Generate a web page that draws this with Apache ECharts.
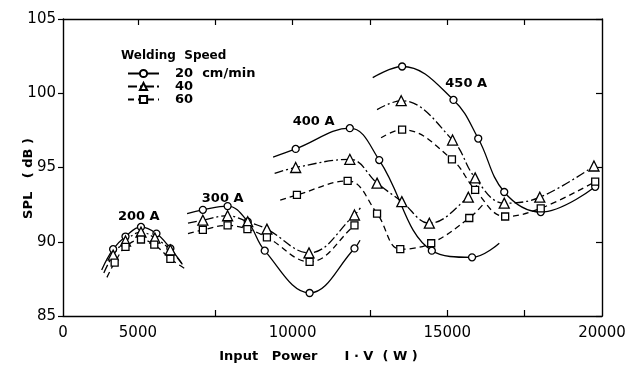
<!DOCTYPE html>
<html>
<head>
<meta charset="utf-8">
<script src="https://cdn.jsdelivr.net/npm/echarts@6/dist/echarts.min.js"></script>
<style>html,body{margin:0;padding:0;background:#fff}#c{width:625px;height:365px}</style>
</head>
<body>
<div id="c"></div>
<script>
// ---- Data ----
const speedNames = ['20  cm/min', '40', '60'];
const groupLabels = ['200 A', '300 A', '400 A', '450 A'];
const groupLabelX = [5030, 7740, 10680, 15610];
const groupLabelY = [91.67, 92.88, 98.06, 100.62];
const xTickLabels = ['0', '5000', '10000', '15000', '20000'];
const xLabelValues = [2580, 5000, 10000, 15000, 20000];
const yTickLabels = ['85', '90', '95', '100', '105'];

// 200 A
const a200_20 = [[4200, 89.5], [4600, 90.35], [5100, 91.0], [5600, 90.55], [6050, 89.55]];
const a200_40 = [[4200, 89.1], [4600, 90.05], [5100, 90.65], [5550, 90.25], [6050, 89.45]];
const a200_60 = [[4250, 88.6], [4600, 89.65], [5100, 90.15], [5530, 89.8], [6050, 88.85]];
const t200_20 = [[3830, 88.1], [6420, 88.55]];
const t200_40 = [[3900, 87.9], [6480, 88.35]];
const t200_60 = [[4000, 87.6], [6550, 88.15]];
// 300 A
const a300_20 = [[7100, 92.15], [7900, 92.4], [8550, 91.35], [9100, 89.4], [10550, 86.55], [12000, 89.55]];
const a300_40 = [[7100, 91.45], [7900, 91.75], [8550, 91.35], [9170, 90.85], [10530, 89.25], [12000, 91.8]];
const a300_60 = [[7100, 90.8], [7900, 91.1], [8540, 90.85], [9170, 90.3], [10550, 88.65], [12000, 91.1]];
const t300_20 = [[6590, 91.9], [12180, 90.1]];
const t300_40 = [[6620, 91.25], [12230, 92.4]];
const t300_60 = [[6620, 90.55], [12160, 91.45]];
// 400 A
const a400_20 = [[10100, 96.25], [11850, 97.65], [12800, 95.5], [14500, 89.4], [15800, 88.95]];
const a400_40 = [[10100, 95.0], [11850, 95.55], [12730, 93.95], [13530, 92.7], [14420, 91.25], [15680, 93.0]];
const a400_60 = [[10140, 93.15], [11780, 94.1], [12730, 91.9], [13480, 89.5], [14480, 89.9], [15710, 91.6]];
const t400_20 = [[9370, 95.7], [16680, 89.9]];
const t400_40 = [[9420, 94.6], [15950, 93.8]];
const t400_60 = [[9600, 92.8], [16150, 92.5]];
// 450 A
const a450_20 = [[13540, 101.8], [15200, 99.55], [16000, 96.95], [16840, 93.35], [18020, 92.0], [19780, 93.7]];
const a450_40 = [[13510, 99.5], [15170, 96.85], [15900, 94.3], [16840, 92.6], [17990, 93.0], [19740, 95.1]];
const a450_60 = [[13540, 97.55], [15150, 95.55], [15900, 93.5], [16870, 91.7], [18020, 92.25], [19780, 94.05]];
const t450_20 = [[12590, 101.05], null];
const t450_40 = [[12730, 98.9], null];
const t450_60 = [[12860, 97.0], null];

// ---- Styles ----
const FONT = 'DejaVu Sans';
const INK = '#000';
const symbols = ['circle', 'triangle', 'rect'];
const symSizes = [7, 10, 7];
const dashes = ['solid', [9, 3, 2, 3], [6, 4]];

function build(speedIdx, pts, tails) {
  const data = [];
  if (tails[0]) data.push({ value: tails[0], symbol: 'none' });
  pts.forEach(p => data.push({ value: p }));
  if (tails[1]) data.push({ value: tails[1], symbol: 'none' });
  return {
    type: 'line',
    name: speedNames[speedIdx],
    data: data,
    smooth: 0.4,
    symbol: symbols[speedIdx],
    symbolSize: symSizes[speedIdx],
    showAllSymbol: true,
    lineStyle: { color: INK, width: 1.3, type: dashes[speedIdx] },
    itemStyle: { color: '#fff', borderColor: INK, borderWidth: 1.3 },
    emphasis: { disabled: true },
    animation: false,
    z: 3
  };
}

const series = [
  build(0, a200_20, t200_20), build(1, a200_40, t200_40), build(2, a200_60, t200_60),
  build(0, a300_20, t300_20), build(1, a300_40, t300_40), build(2, a300_60, t300_60),
  build(0, a400_20, t400_20), build(1, a400_40, t400_40), build(2, a400_60, t400_60),
  build(0, a450_20, t450_20), build(1, a450_40, t450_40), build(2, a450_60, t450_60),
  {
    type: 'scatter',
    name: 'labels',
    symbolSize: 0,
    itemStyle: { color: '#000', opacity: 1 },
    data: groupLabels.map((t, i) => ({ value: [groupLabelX[i], groupLabelY[i]], name: t })),
    label: {
      show: true, position: 'inside', formatter: p => p.name,
      color: '#000', textBorderWidth: 0, opacity: 1,
      fontFamily: FONT, fontSize: 13, fontWeight: 'bold'
    },
    silent: true, animation: false, z: 5
  }
];

const XMIN = xLabelValues[0], XMAX = 20000;
const chart = echarts.init(document.getElementById('c'), null, { renderer: 'canvas' });
chart.setOption({
  backgroundColor: '#fff',
  animation: false,
  title: {
    text: 'Welding  Speed', left: 116, top: 45,
    textStyle: { fontFamily: FONT, fontSize: 12, fontWeight: 'bold', color: INK }
  },
  legend: {
    data: speedNames, orient: 'vertical', left: 122, top: 62,
    itemWidth: 31, itemHeight: 9, itemGap: 0,
    textStyle: { fontFamily: FONT, fontSize: 13, fontWeight: 'bold', color: INK, padding: [0, 0, 0, 11] },
    selectedMode: false
  },
  grid: { left: 63, right: 23, top: 19, bottom: 49, containLabel: false, outerBoundsMode: 'none' },
  xAxis: [
    {
      type: 'value', position: 'bottom', min: XMIN, max: XMAX,
      axisLine: { show: true, onZero: false, lineStyle: { color: INK, width: 1.4 } },
      axisTick: { show: true, inside: true, length: 6, customValues: [7500, 12500, 15000, 17500], lineStyle: { color: INK, width: 1.2 } },
      axisLabel: {
        customValues: xLabelValues, margin: 10,
        formatter: v => xTickLabels[xLabelValues.indexOf(v)] ?? '',
        fontFamily: FONT, fontSize: 15, color: INK
      },
      splitLine: { show: false },
      name: 'Input   Power      I · V  ( W )', nameLocation: 'middle', nameGap: 34,
      nameTextStyle: { fontFamily: FONT, fontSize: 13, fontWeight: 'bold', color: INK, padding: [0, 28, 0, 0] }
    },
    {
      type: 'value', position: 'top', min: XMIN, max: XMAX,
      axisLine: { show: true, onZero: false, lineStyle: { color: INK, width: 1.4 } },
      axisTick: { show: true, inside: true, length: 6, customValues: [5000, 7500, 10000, 12500, 15000, 17500], lineStyle: { color: INK, width: 1.2 } },
      axisLabel: { show: false }, splitLine: { show: false }
    }
  ],
  yAxis: [
    {
      type: 'value', position: 'left', min: 85, max: 105, interval: 5,
      axisLine: { show: true, onZero: false, lineStyle: { color: INK, width: 1.4 } },
      axisTick: { show: true, inside: false, length: 5, lineStyle: { color: INK, width: 1.2 } },
      axisLabel: {
        margin: 7, fontFamily: FONT, fontSize: 15, color: INK,
        formatter: v => yTickLabels[(v - 85) / 5] ?? ''
      },
      splitLine: { show: false },
      name: 'SPL   ( dB )', nameLocation: 'middle', nameGap: 28, nameRotate: 90,
      nameMoveOverlap: false,
      nameTextStyle: { fontFamily: FONT, fontSize: 13, fontWeight: 'bold', color: INK, padding: [0, 22, 0, 0] }
    },
    {
      type: 'value', position: 'right', min: 85, max: 105, interval: 5,
      axisLine: { show: true, onZero: false, lineStyle: { color: INK, width: 1.4 } },
      axisTick: { show: true, inside: true, length: 6, lineStyle: { color: INK, width: 1.2 } },
      axisLabel: { show: false }, splitLine: { show: false }
    }
  ],
  series: series
});
</script>
</body>
</html>
